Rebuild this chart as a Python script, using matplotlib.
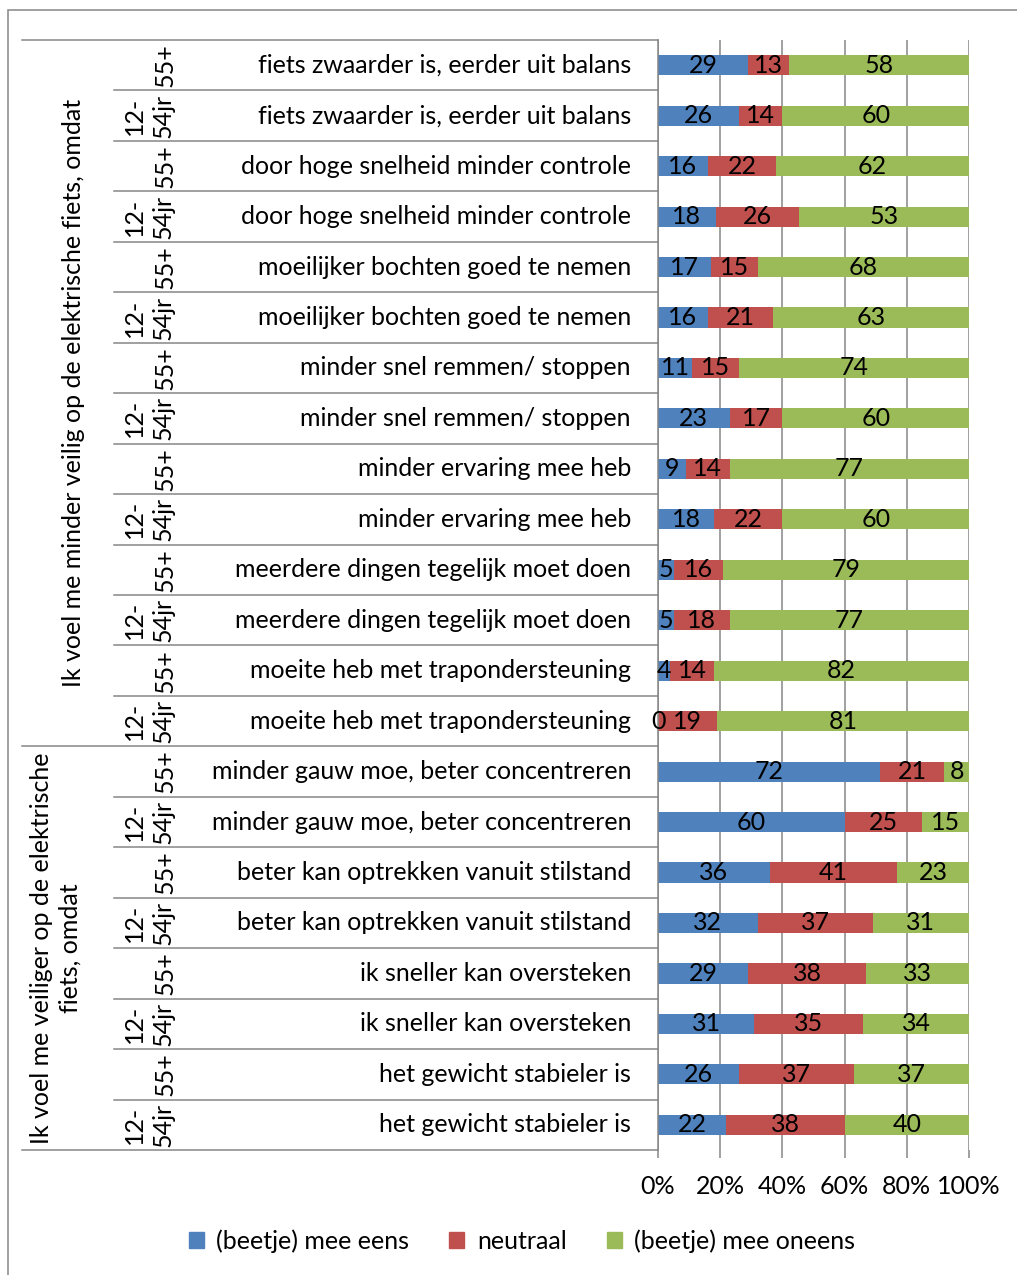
import numpy as np
import matplotlib
matplotlib.use("Agg")
import matplotlib.pyplot as plt
from matplotlib.patches import Patch, Rectangle
from matplotlib.transforms import blended_transform_factory

plt.rcParams['font.family'] = ['Lato', 'DejaVu Sans']

# rijen van boven naar beneden
items = [
    'fiets zwaarder is, eerder uit balans', 'fiets zwaarder is, eerder uit balans',
    'door hoge snelheid minder controle', 'door hoge snelheid minder controle',
    'moeilijker bochten goed te nemen', 'moeilijker bochten goed te nemen',
    'minder snel remmen/ stoppen', 'minder snel remmen/ stoppen',
    'minder ervaring mee heb', 'minder ervaring mee heb',
    'meerdere dingen tegelijk moet doen', 'meerdere dingen tegelijk moet doen',
    'moeite heb met trapondersteuning', 'moeite heb met trapondersteuning',
    'minder gauw moe, beter concentreren', 'minder gauw moe, beter concentreren',
    'beter kan optrekken vanuit stilstand', 'beter kan optrekken vanuit stilstand',
    'ik sneller kan oversteken', 'ik sneller kan oversteken',
    'het gewicht stabieler is', 'het gewicht stabieler is',
]
ages = ['55+', '12-\n54jr'] * 11
groups = ['Ik voel me minder veilig op de elektrische fiets, omdat',
          'Ik voel me veiliger op de elektrische\nfiets, omdat']

eens = [29, 26, 16, 18, 17, 16, 11, 23, 9, 18, 5, 5, 4, 0,
        72, 60, 36, 32, 29, 31, 26, 22]
neutraal = [13, 14, 22, 26, 15, 21, 15, 17, 14, 22, 16, 18, 14, 19,
            21, 25, 41, 37, 38, 35, 37, 38]
oneens = [58, 60, 62, 53, 68, 63, 74, 60, 77, 60, 79, 77, 82, 81,
          8, 15, 23, 31, 33, 34, 37, 40]

series = [eens, neutraal, oneens]
labels = ['(beetje) mee eens', 'neutraal', '(beetje) mee oneens']
colors = ['#4F81BD', '#C0504D', '#9BBB59']

W, H = 1017, 1275
FS = 18
GRAY = '#868686'

fig = plt.figure(figsize=(W / 100, H / 100), dpi=100)
ax = fig.add_axes([658 / W, 1 - 1150 / H, (969 - 658) / W, (1150 - 40) / H])

y = np.arange(len(items))
vals = np.array(series, dtype=float)
shares = vals / vals.sum(axis=0) * 100  # 100% gestapeld
left = np.zeros(len(items))
for k in range(3):
    ax.barh(y, shares[k], left=left, height=0.4, color=colors[k], zorder=2)
    for i in range(len(items)):
        ax.text(left[i] + shares[k][i] / 2, y[i], str(series[k][i]),
                ha='center', va='center', fontsize=FS, zorder=3)
    left += shares[k]

ax.set_xlim(0, 100)
ax.set_ylim(len(items) - 0.5, -0.5)
ax.set_xticks(range(0, 101, 20))
ax.set_xticklabels([f'{v}%' for v in range(0, 101, 20)], fontsize=FS)
ax.set_yticks([])
ax.grid(axis='x', color=GRAY, lw=1.1)
ax.set_axisbelow(True)
for s in ['top', 'right', 'bottom']:
    ax.spines[s].set_visible(False)
ax.spines['left'].set_color(GRAY)
ax.spines['left'].set_linewidth(1.1)
ax.tick_params(axis='x', length=6, width=1.1, color=GRAY, pad=12)

# categorie-tabel links van de as
tr = blended_transform_factory(fig.transFigure, ax.transData)
group_edges = [-0.5, 13.5, 21.5]
for b in np.arange(-0.5, len(items), 1.0):
    x0 = 22 / W if b in group_edges else 114 / W
    ax.plot([x0, 658 / W], [b, b], transform=tr, clip_on=False,
            color=GRAY, lw=1.1)

for i in range(len(items)):
    ax.text(631 / W, i, items[i], transform=tr, ha='right', va='center',
            fontsize=FS)
    xa = 165 / W if ages[i] == '55+' else 149 / W
    ax.text(xa, i, ages[i], transform=tr, ha='center', va='center',
            rotation=90, multialignment='center', fontsize=FS,
            linespacing=1.3)

ax.text(74 / W, 6.5, groups[0], transform=tr, ha='center', va='center',
        rotation=90, fontsize=FS)
ax.text(56 / W, 17.5, groups[1], transform=tr, ha='center', va='center',
        rotation=90, multialignment='center', fontsize=FS, linespacing=1.3)

# kader om de grafiek
fig.add_artist(Rectangle((8 / W, -0.1), 1.2, 1 - 10 / H + 0.1,
                         transform=fig.transFigure, fill=False,
                         edgecolor=GRAY, lw=1.1))

handles = [Patch(color=c) for c in colors]
fig.legend(handles, labels, loc='center', bbox_to_anchor=(522 / W, 1 - 1241 / H),
           ncol=3, frameon=False, fontsize=FS, handlelength=0.6,
           handleheight=0.6, handletextpad=0.5, columnspacing=1.6)

fig.savefig('out.png', dpi=100)
